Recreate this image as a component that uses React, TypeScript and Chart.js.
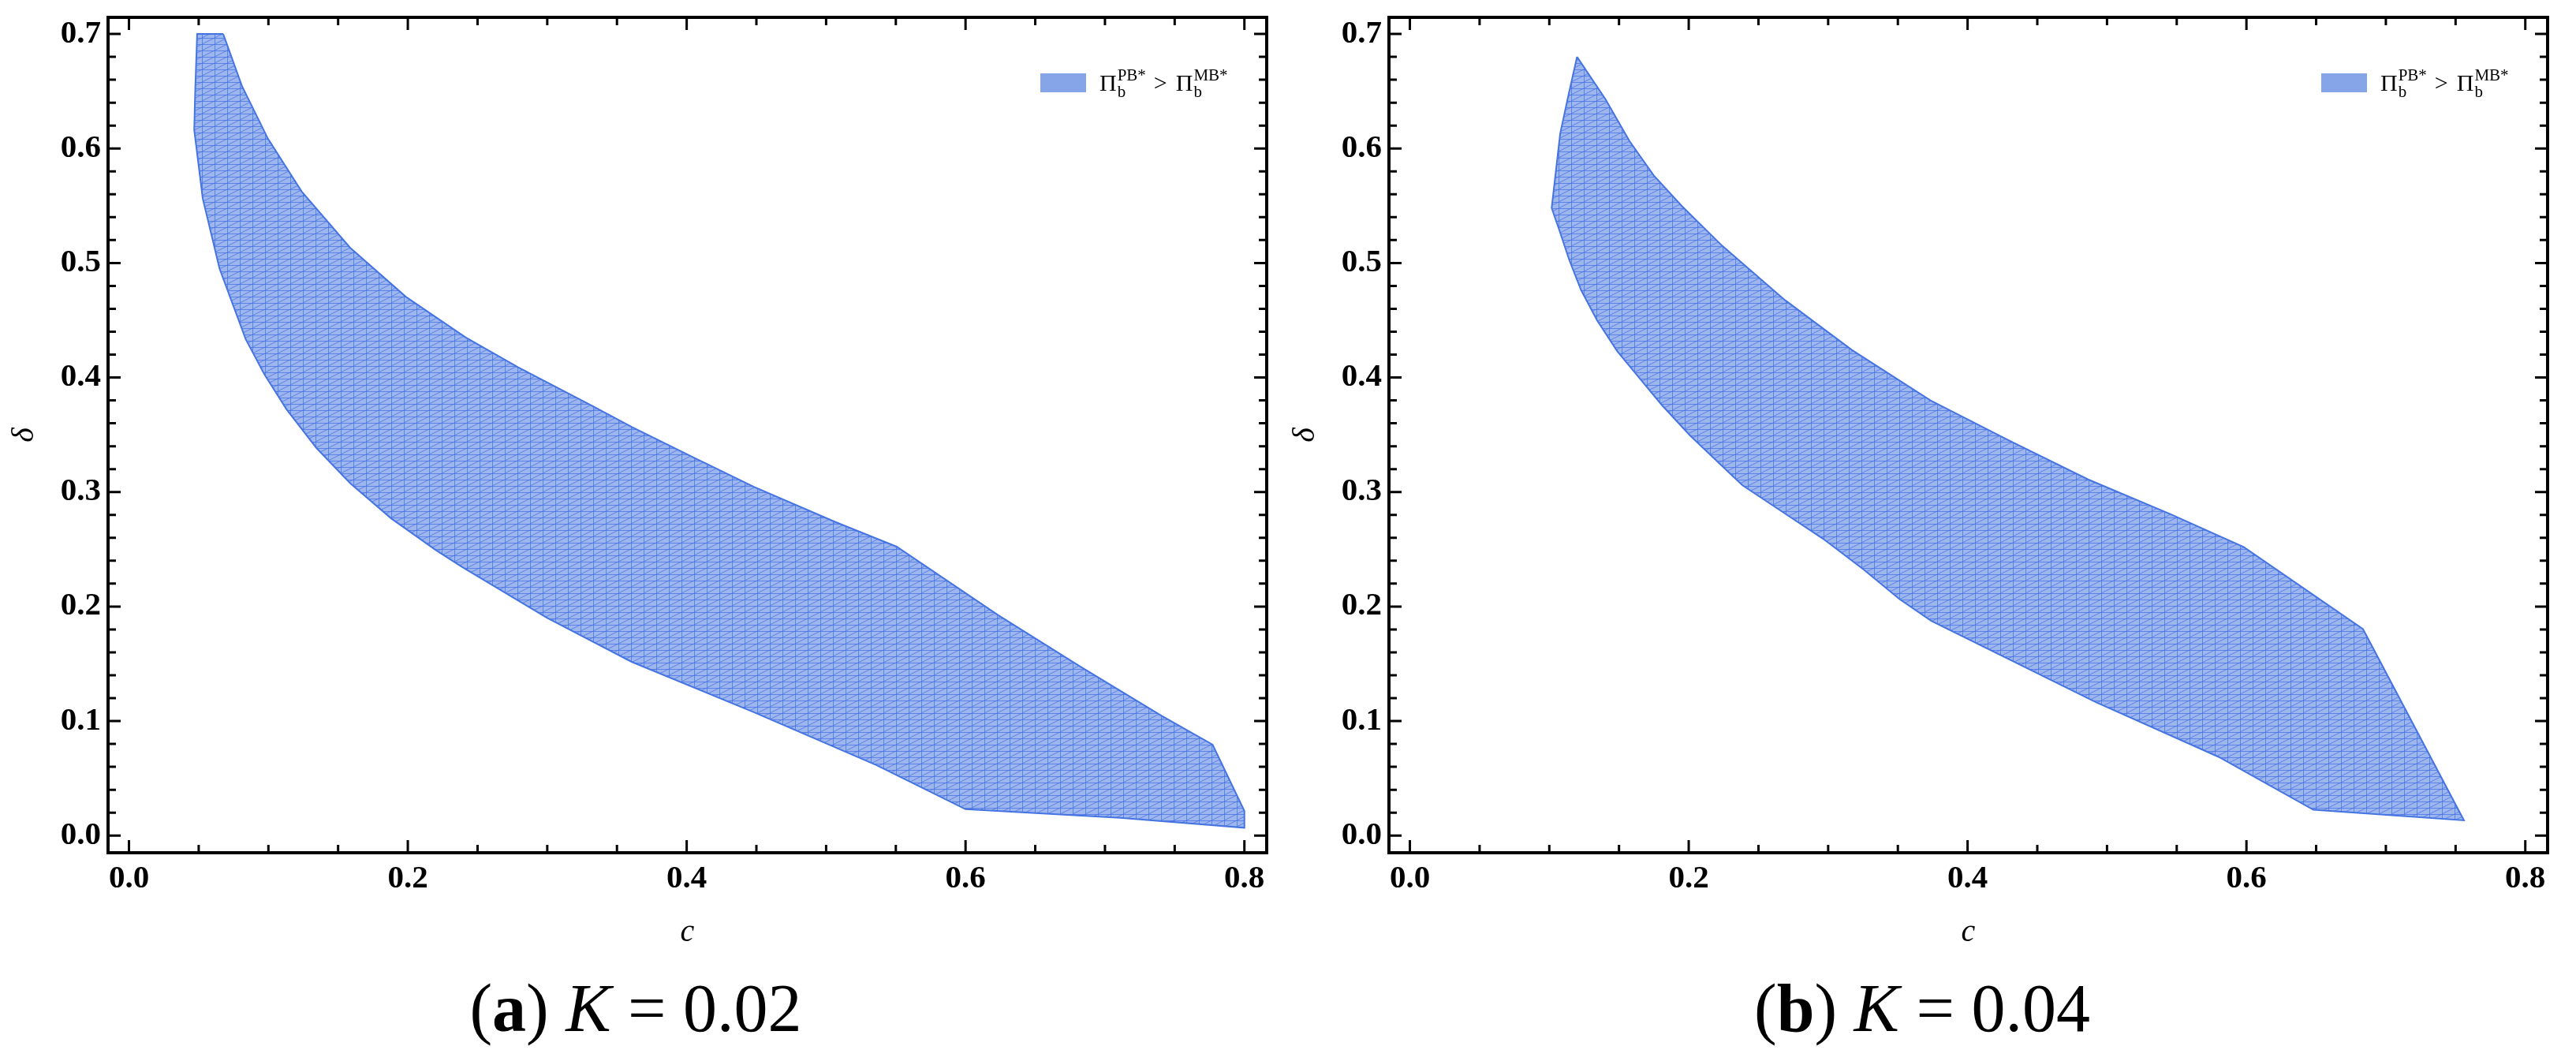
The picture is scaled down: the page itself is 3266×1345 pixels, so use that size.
import { useEffect, useRef } from "react";
import { Chart, registerables, type Plugin } from "chart.js";

Chart.register(...registerables);

// region where Pi_b^PB* > Pi_b^MB*, K = 0.02
const K02_UPPER_C = [0.0676, 0.081, 0.0997, 0.1238, 0.1586, 0.1987, 0.2414, 0.2789, 0.3324, 0.3605, 0.404, 0.4482, 0.5067, 0.5506, 0.6237, 0.6822, 0.7406, 0.7772, 0.8];
const K02_UPPER_D = [0.7, 0.6546, 0.6085, 0.5625, 0.5134, 0.4704, 0.4351, 0.409, 0.3752, 0.3569, 0.3307, 0.3046, 0.2738, 0.2523, 0.1923, 0.1477, 0.1046, 0.0794, 0.0215];
const K02_LOWER_C = [0.0489, 0.0475, 0.0468, 0.0529, 0.065, 0.0837, 0.0971, 0.1131, 0.1345, 0.1586, 0.188, 0.2201, 0.2388, 0.3, 0.3605, 0.4482, 0.536, 0.6, 0.711, 0.8];
const K02_LOWER_D = [0.7, 0.65, 0.6162, 0.5563, 0.4949, 0.4335, 0.4028, 0.3721, 0.3384, 0.3077, 0.277, 0.2493, 0.2346, 0.19, 0.1517, 0.1077, 0.0615, 0.023, 0.0154, 0.0068];

// same region, K = 0.04
const K04_UPPER_C = [0.1199, 0.1402, 0.1575, 0.1749, 0.1951, 0.224, 0.269, 0.317, 0.3734, 0.43, 0.4864, 0.545, 0.598, 0.6836, 0.756];
const K04_UPPER_D = [0.68, 0.6432, 0.6065, 0.5765, 0.5497, 0.515, 0.4676, 0.4241, 0.38, 0.3448, 0.311, 0.281, 0.252, 0.1803, 0.0133];
const K04_LOWER_C = [0.1199, 0.114, 0.1078, 0.1017, 0.1069, 0.1142, 0.1228, 0.1344, 0.1488, 0.1647, 0.1806, 0.2009, 0.2211, 0.2384, 0.2673, 0.2962, 0.3251, 0.3512, 0.374, 0.492, 0.58, 0.648, 0.756];
const K04_LOWER_D = [0.68, 0.648, 0.613, 0.548, 0.5297, 0.503, 0.4763, 0.4496, 0.4229, 0.3995, 0.3761, 0.3494, 0.326, 0.306, 0.2826, 0.2593, 0.2326, 0.2065, 0.1874, 0.1165, 0.0687, 0.0225, 0.0133];

const C_TICKS = [0, 0.2, 0.4, 0.6, 0.8];
const C_MINOR = [0, 0.05, 0.1, 0.15, 0.2, 0.25, 0.3, 0.35, 0.4, 0.45, 0.5, 0.55, 0.6, 0.65, 0.7, 0.75, 0.8];
const D_TICKS = [0, 0.1, 0.2, 0.3, 0.4, 0.5, 0.6, 0.7];
const D_MINOR = [0, 0.02, 0.04, 0.06, 0.08, 0.1, 0.12, 0.14, 0.16, 0.18, 0.2, 0.22, 0.24, 0.26, 0.28, 0.3, 0.32, 0.34, 0.36, 0.38, 0.4, 0.42, 0.44, 0.46, 0.48, 0.5, 0.52, 0.54, 0.56, 0.58, 0.6, 0.62, 0.64, 0.66, 0.68, 0.7];
const LEGEND_SUPS = ["PB*", "MB*"];

const FONT = '"Liberation Serif", "Times New Roman", serif';
const FILL = "#9db6ee";
const MESH = "rgba(62, 108, 226, 0.7)";
const EDGE = "#4574e2";
const SWATCH = "#85a5e8";

const isMajor = (list: number[], v: number) => list.some((t) => Math.abs(t - v) < 1e-9);

function meshPattern() {
  const c = document.createElement("canvas");
  c.width = 16;
  c.height = 8;
  const g = c.getContext("2d")!;
  g.fillStyle = FILL;
  g.fillRect(0, 0, 16, 8);
  g.strokeStyle = MESH;
  g.lineWidth = 1;
  g.beginPath();
  g.moveTo(0, 0.5);
  g.lineTo(16, 0.5);
  g.moveTo(0.5, 0);
  g.lineTo(0.5, 8);
  g.moveTo(0, 8);
  g.lineTo(16, 0);
  g.stroke();
  return g.createPattern(c, "repeat")!;
}

function drawPiTerm(ctx: CanvasRenderingContext2D, x: number, base: number, sup: string) {
  ctx.font = `30px ${FONT}`;
  ctx.fillText("Π", x, base);
  const px = x + ctx.measureText("Π").width + 1;
  ctx.font = `21px ${FONT}`;
  ctx.fillText(sup, px, base - 13);
  ctx.fillText("b", px, base + 8);
  return px + Math.max(ctx.measureText(sup).width, ctx.measureText("b").width);
}

function drawLegend(ctx: CanvasRenderingContext2D, a: { right: number; top: number }) {
  const sx = a.right - 287;
  const sy = a.top + 71;
  ctx.fillStyle = SWATCH;
  ctx.fillRect(sx, sy, 58, 24);
  const base = a.top + 93;
  ctx.fillStyle = "#000";
  ctx.textAlign = "left";
  ctx.textBaseline = "alphabetic";
  let x = drawPiTerm(ctx, sx + 75, base, LEGEND_SUPS[0]);
  ctx.font = `30px ${FONT}`;
  x += 10;
  ctx.fillText(">", x, base);
  x += ctx.measureText(">").width + 11;
  drawPiTerm(ctx, x, base, LEGEND_SUPS[1]);
}

const frameTicks: Plugin<"line"> = {
  id: "frameTicks",
  afterDraw(chart) {
    const { ctx, chartArea: a } = chart;
    const xs = chart.scales.x;
    const ys = chart.scales.y;
    ctx.save();
    ctx.strokeStyle = "#000";
    ctx.lineWidth = 3;
    ctx.beginPath();
    for (const v of C_MINOR) {
      const px = xs.getPixelForValue(v);
      const len = isMajor(C_TICKS, v) ? 16 : 10;
      ctx.moveTo(px, a.bottom);
      ctx.lineTo(px, a.bottom - len);
      ctx.moveTo(px, a.top);
      ctx.lineTo(px, a.top + len);
    }
    for (const v of D_MINOR) {
      const py = ys.getPixelForValue(v);
      const len = isMajor(D_TICKS, v) ? 16 : 10;
      ctx.moveTo(a.left, py);
      ctx.lineTo(a.left + len, py);
      ctx.moveTo(a.right, py);
      ctx.lineTo(a.right - len, py);
    }
    ctx.stroke();
    ctx.lineWidth = 4;
    ctx.strokeRect(a.left, a.top, a.right - a.left, a.bottom - a.top);
    drawLegend(ctx, a);
    ctx.restore();
  },
};

type PanelProps = {
  upperC: number[];
  upperD: number[];
  lowerC: number[];
  lowerD: number[];
  left: number;
};

function RegionPanel({ upperC, upperD, lowerC, lowerD, left }: PanelProps) {
  const canvasRef = useRef<HTMLCanvasElement>(null);

  useEffect(() => {
    if (!canvasRef.current) return;
    const upper = upperC.map((c, i) => ({ x: c, y: upperD[i] }));
    const lower = lowerC.map((c, i) => ({ x: c, y: lowerD[i] })).reverse();
    const outline = [...upper, ...lower, upper[0]];

    const tickFont = { family: FONT, size: 41, weight: "bold" as const };
    const titleFont = { family: FONT, size: 40, style: "italic" as const };

    const chart = new Chart(canvasRef.current, {
      type: "line",
      data: {
        datasets: [
          {
            label: "Π_b^PB* > Π_b^MB*",
            data: outline,
            fill: "shape",
            backgroundColor: meshPattern(),
            borderColor: EDGE,
            borderWidth: 2,
            pointRadius: 0,
            tension: 0,
          },
        ],
      },
      options: {
        animation: false,
        responsive: false,
        events: [],
        layout: { padding: { top: 22, right: 24, left: 0, bottom: 0 } },
        plugins: { legend: { display: false }, tooltip: { enabled: false } },
        scales: {
          x: {
            type: "linear",
            min: -0.015,
            max: 0.816,
            afterBuildTicks: (s) => {
              s.ticks = C_TICKS.map((value) => ({ value }));
            },
            afterFit: (s) => {
              s.height = 149;
              s.paddingLeft = 0;
              s.paddingRight = 0;
            },
            grid: { display: false, drawTicks: false },
            border: { display: false },
            ticks: {
              font: tickFont,
              color: "#000",
              padding: 9,
              maxRotation: 0,
              autoSkip: false,
              callback: (v) => Number(v).toFixed(1),
            },
            title: { display: true, text: "c", font: titleFont, color: "#000", padding: { top: 0, bottom: 24 } },
          },
          y: {
            type: "linear",
            min: -0.015,
            max: 0.7145,
            afterBuildTicks: (s) => {
              s.ticks = D_TICKS.map((value) => ({ value }));
            },
            afterFit: (s) => {
              s.width = 137;
              s.paddingTop = 0;
              s.paddingBottom = 0;
            },
            grid: { display: false, drawTicks: false },
            border: { display: false },
            ticks: {
              font: tickFont,
              color: "#000",
              padding: 9,
              autoSkip: false,
              callback: (v) => Number(v).toFixed(1),
            },
            title: { display: true, text: "δ", font: titleFont, color: "#000", padding: { top: 7, bottom: 0 } },
          },
        },
      },
      plugins: [frameTicks],
    });

    return () => chart.destroy();
  }, [upperC, upperD, lowerC, lowerD]);

  return (
    <canvas
      ref={canvasRef}
      width={1630}
      height={1230}
      style={{ position: "absolute", left, top: 0, width: 1630, height: 1230 }}
    />
  );
}

const captionStyle = {
  position: "absolute" as const,
  top: 1235,
  width: 1612,
  textAlign: "center" as const,
  fontSize: 86,
  lineHeight: "86px",
  fontFamily: FONT,
  color: "#000",
  whiteSpace: "nowrap" as const,
};

export default function App() {
  return (
    <div style={{ position: "absolute", left: 0, top: 0, width: 3266, height: 1345, background: "#fff", overflow: "hidden" }}>
      <RegionPanel upperC={K02_UPPER_C} upperD={K02_UPPER_D} lowerC={K02_LOWER_C} lowerD={K02_LOWER_D} left={0} />
      <RegionPanel upperC={K04_UPPER_C} upperD={K04_UPPER_D} lowerC={K04_LOWER_C} lowerD={K04_LOWER_D} left={1624} />
      <div style={{ ...captionStyle, left: 0 }}>
        (<b>a</b>) <i>K</i> = 0.02
      </div>
      <div style={{ ...captionStyle, left: 1631 }}>
        (<b>b</b>) <i>K</i> = 0.04
      </div>
    </div>
  );
}
